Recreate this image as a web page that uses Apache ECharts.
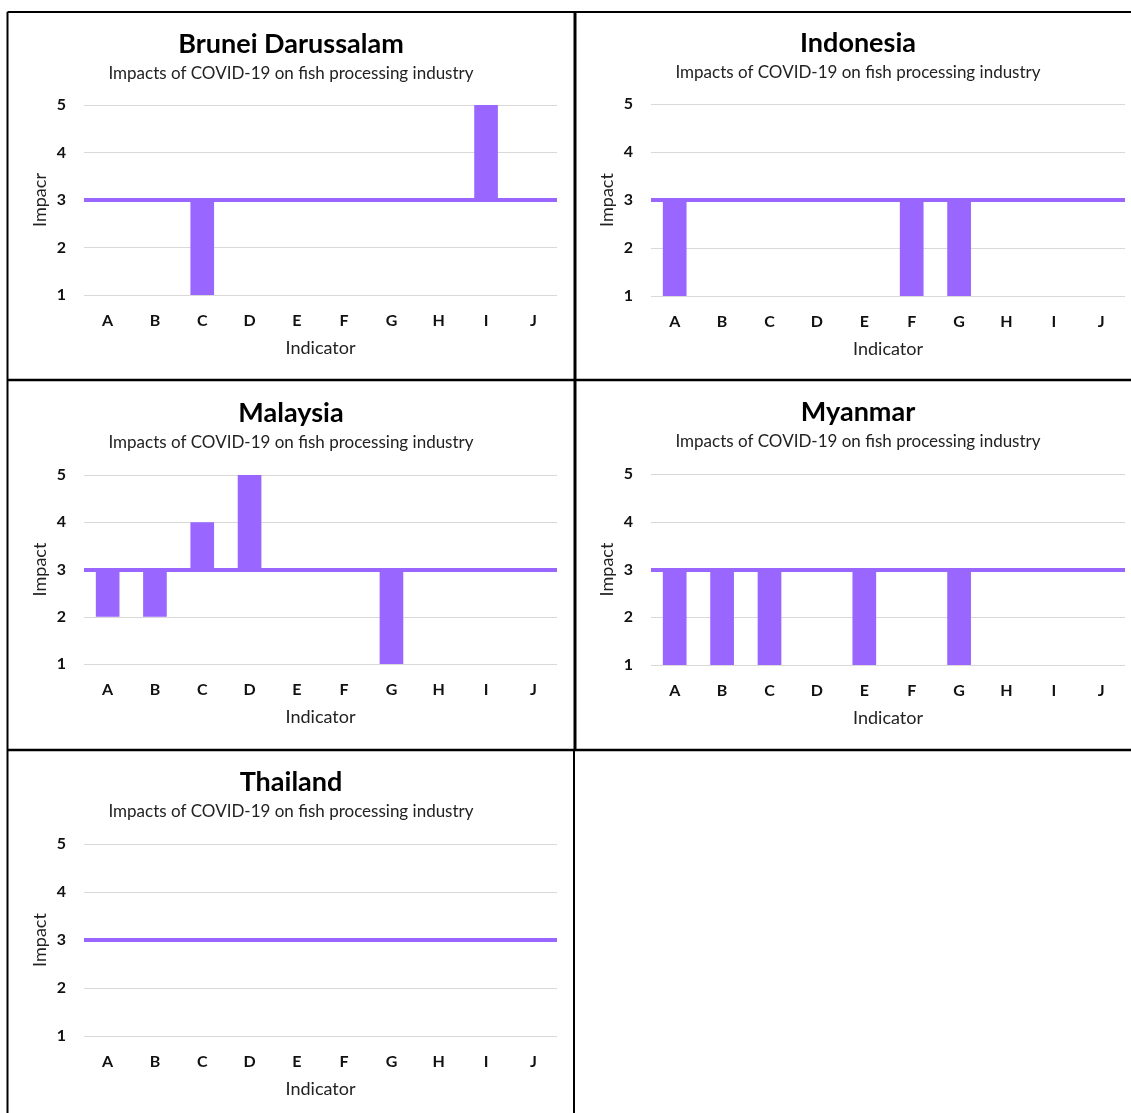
<!DOCTYPE html>
<html>
<head>
<meta charset="utf-8">
<script src="https://cdn.jsdelivr.net/npm/echarts@6/dist/echarts.min.js"></script>
<style>
html,body{margin:0;padding:0;background:#fff;}
#chart{width:1131px;height:1113px;}
</style>
</head>
<body>
<div id="chart"></div>
<script>
// ---- data ----
var categories = ['A','B','C','D','E','F','G','H','I','J'];
var yTicks = [1,2,3,4,5];
var countries = ['Brunei Darussalam','Indonesia','Malaysia','Myanmar','Thailand'];
var yNames = ['Impacr','Impact','Impact','Impact','Impact'];
var subtitle = 'Impacts of COVID-19 on fish processing industry';
var xName = 'Indicator';
var baseline = 3;
var brunei    = [3,3,1,3,3,3,3,3,5,3];
var indonesia = [1,3,3,3,3,1,1,3,3,3];
var malaysia  = [2,2,4,5,3,3,1,3,3,3];
var myanmar   = [1,1,1,3,1,3,1,3,3,3];
var thailand  = [3,3,3,3,3,3,3,3,3,3];
var seriesValues = [brunei, indonesia, malaysia, myanmar, thailand];

// ---- layout ----
var layout = [
  {left:84,  top:105, width:473, height:190, cx:291, titleTop:31, subTop:65},
  {left:651, top:104, width:474, height:192, cx:858, titleTop:30, subTop:64},
  {left:84,  top:475, width:473, height:189, cx:291, titleTop:400, subTop:434},
  {left:651, top:474, width:474, height:191, cx:858, titleTop:399, subTop:433},
  {left:84,  top:844, width:473, height:192, cx:291, titleTop:769, subTop:803}
];
var FONT = 'Lato';
var PURPLE = '#9966FF';

var grids=[], xAxes=[], yAxes=[], series=[], titles=[];
countries.forEach(function(name, i){
  var L = layout[i];
  grids.push({left:L.left, top:L.top, width:L.width, height:L.height, containLabel:false});
  titles.push({text:name, left:L.cx, top:L.titleTop, textAlign:'center', padding:0,
    textStyle:{fontFamily:FONT, fontSize:27, fontWeight:'bold', color:'#000'}});
  titles.push({text:subtitle, left:L.cx, top:L.subTop, textAlign:'center', padding:0,
    textStyle:{fontFamily:FONT, fontSize:17, fontWeight:'normal', color:'#222'}});
  xAxes.push({type:'category', gridIndex:i, data:categories,
    axisLine:{show:false}, axisTick:{show:false},
    axisLabel:{fontFamily:FONT, fontSize:16, fontWeight:'bold', color:'#111', margin:18},
    name:xName, nameLocation:'middle', nameGap:44,
    nameTextStyle:{fontFamily:FONT, fontSize:18, color:'#222'}});
  yAxes.push({type:'value', gridIndex:i, min:yTicks[0], max:yTicks[yTicks.length-1], interval:1,
    axisLine:{show:false}, axisTick:{show:false},
    splitLine:{lineStyle:{color:'#D9D9D9', width:1}},
    axisLabel:{fontFamily:FONT, fontSize:16, fontWeight:'bold', color:'#111', margin:18},
    name:yNames[i], nameLocation:'middle', nameGap:35, nameRotate:90,
    nameTextStyle:{fontFamily:FONT, fontSize:18, color:'#222'}});
  var vals = seriesValues[i];
  series.push({type:'bar', xAxisIndex:i, yAxisIndex:i, stack:'s'+i,
    data: vals.map(function(v){return Math.min(v, baseline);}),
    itemStyle:{color:'rgba(0,0,0,0)'}, barWidth:'50%', silent:true,
    emphasis:{disabled:true}});
  series.push({type:'bar', xAxisIndex:i, yAxisIndex:i, stack:'s'+i,
    data: vals.map(function(v){return Math.abs(v - baseline);}),
    itemStyle:{color:PURPLE}, barWidth:'50%', silent:true,
    emphasis:{disabled:true},
    markLine:{silent:true, symbol:['none','none'], label:{show:false},
      lineStyle:{color:PURPLE, width:4, type:'solid'},
      emphasis:{disabled:true},
      data:[{yAxis:baseline}]}});
});

var B = '#000';
var borders = [
  {x1:7.5, y1:12, x2:1131, y2:12, w:2},
  {x1:7.5, y1:12, x2:7.5, y2:1113, w:2},
  {x1:575, y1:12, x2:575, y2:750, w:3},
  {x1:574, y1:750, x2:574, y2:1113, w:2},
  {x1:7.5, y1:380, x2:1131, y2:380, w:2.5},
  {x1:7.5, y1:750, x2:1131, y2:750, w:2.5}
];
var graphics = borders.map(function(b){
  return {type:'line', shape:{x1:b.x1,y1:b.y1,x2:b.x2,y2:b.y2}, style:{stroke:B, lineWidth:b.w}, silent:true, z:100};
});

var chart = echarts.init(document.getElementById('chart'), null, {renderer:'canvas'});
chart.setOption({
  animation:false,
  backgroundColor:'#fff',
  title:titles, grid:grids, xAxis:xAxes, yAxis:yAxes, series:series,
  graphic:graphics
});
</script>
</body>
</html>
